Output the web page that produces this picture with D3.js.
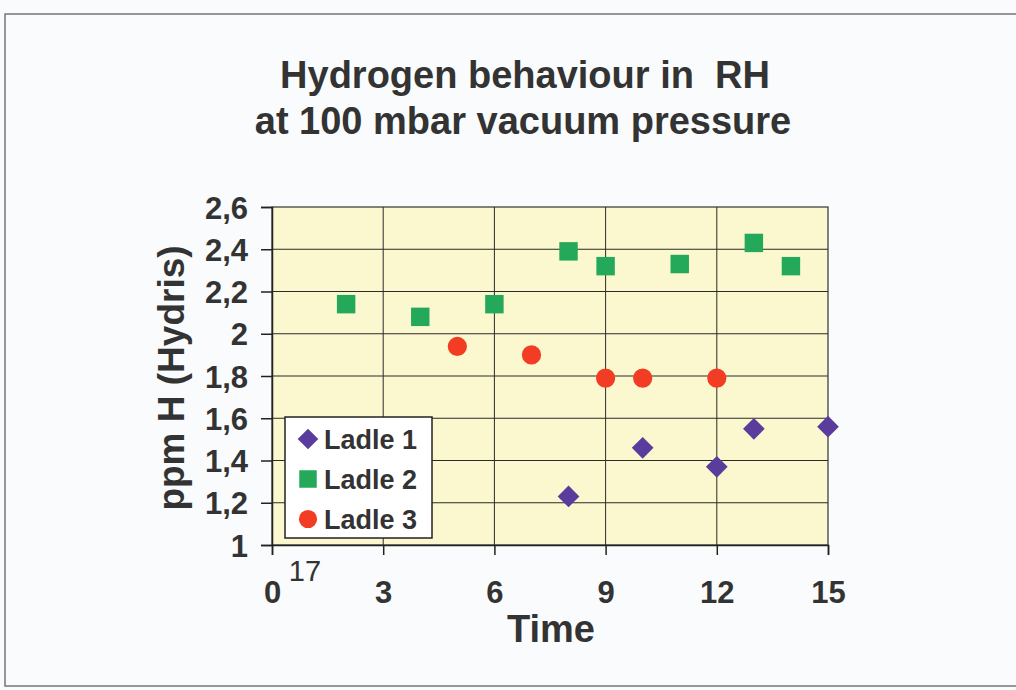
<!DOCTYPE html>
<html>
<head>
<meta charset="utf-8">
<script src="https://cdn.jsdelivr.net/npm/d3@7"></script>
<style>
  body { margin: 0; background: #fff; }
  svg text { font-family: "Liberation Sans", Arial, sans-serif; fill: #333; }
</style>
</head>
<body>
<svg id="chart" width="1016" height="690"></svg>
<script>
// data
const xTicks = [0, 3, 6, 9, 12, 15];
const yTicks = [1, 1.2, 1.4, 1.6, 1.8, 2, 2.2, 2.4, 2.6];
const yTickLabels = ["1", "1,2", "1,4", "1,6", "1,8", "2", "2,2", "2,4", "2,6"];

const ladle1 = [[8, 1.23], [10, 1.46], [12, 1.37], [13, 1.55], [15, 1.56]];
const ladle2 = [[2, 2.14], [4, 2.08], [6, 2.14], [8, 2.39], [9, 2.32], [11, 2.33], [13, 2.43], [14, 2.32]];
const ladle3 = [[5, 1.94], [7, 1.9], [9, 1.79], [10, 1.79], [12, 1.79]];

const seriesNames = ["Ladle 1", "Ladle 2", "Ladle 3"];

const svg = d3.select("#chart");
const width = +svg.attr("width");
const height = +svg.attr("height");

// slide background + frame
svg.append("rect").attr("width", width).attr("height", height).attr("fill", "#f9fbfc");
svg.append("rect")
   .attr("x", 5).attr("y", 14).attr("width", width + 10).attr("height", 672)
   .attr("fill", "none").attr("stroke", "#777").attr("stroke-width", 1.5);

const x = d3.scaleLinear().domain([0, 15]).range([272, 828]);
const y = d3.scaleLinear().domain([1, 2.6]).range([545, 207]);

// plot area
svg.append("rect")
   .attr("x", x(0)).attr("y", y(2.6))
   .attr("width", x(15) - x(0)).attr("height", y(1) - y(2.6))
   .attr("fill", "#fbf8cf")
   .attr("stroke", "#333").attr("stroke-width", 1.2);

// gridlines
svg.append("g").selectAll("line")
   .data(yTicks.filter(v => v > 1 && v < 2.6))
   .join("line")
   .attr("x1", x(0)).attr("x2", x(15))
   .attr("y1", d => y(d)).attr("y2", d => y(d))
   .attr("stroke", "#2a2a2a").attr("stroke-width", 1);

svg.append("g").selectAll("line")
   .data(xTicks.filter(v => v > 0 && v < 15))
   .join("line")
   .attr("x1", d => x(d)).attr("x2", d => x(d))
   .attr("y1", y(2.6)).attr("y2", y(1))
   .attr("stroke", "#2a2a2a").attr("stroke-width", 1);

// axes
const yAxis = svg.append("g")
   .attr("transform", `translate(${x(0)},0)`)
   .call(d3.axisLeft(y).tickValues(yTicks).tickSize(11).tickPadding(13)
         .tickFormat((d, i) => yTickLabels[i]));
yAxis.select(".domain").attr("stroke", "#222").attr("stroke-width", 1.5);
yAxis.selectAll(".tick line").attr("stroke", "#222").attr("stroke-width", 1.5);
yAxis.selectAll(".tick text")
   .attr("font-size", 31).attr("font-weight", "bold").attr("fill", "#333").attr("dy", "0.36em");

const xAxis = svg.append("g")
   .attr("transform", `translate(0,${y(1)})`)
   .call(d3.axisBottom(x).tickValues(xTicks).tickSize(10).tickPadding(26));
xAxis.select(".domain").attr("stroke", "#222").attr("stroke-width", 1.5);
xAxis.selectAll(".tick line").attr("stroke", "#222").attr("stroke-width", 1.5);
xAxis.selectAll(".tick text")
   .attr("font-size", 31).attr("font-weight", "bold").attr("fill", "#333");

// stray label near the origin
svg.append("text")
   .attr("x", x(0) + 33).attr("y", y(1) + 36)
   .attr("text-anchor", "middle").attr("font-size", 29)
   .text("17");

// markers
const sym = {
  "Ladle 1": { shape: d3.symbolDiamond2, size: 300, color: "#5a3c9c", data: ladle1 },
  "Ladle 2": { shape: d3.symbolSquare, size: 340, color: "#24a85a", data: ladle2 },
  "Ladle 3": { shape: d3.symbolCircle, size: 290, color: "#f23c24", data: ladle3 }
};

seriesNames.forEach(name => {
  const s = sym[name];
  svg.append("g").selectAll("path")
     .data(s.data)
     .join("path")
     .attr("transform", d => `translate(${x(d[0])},${y(d[1])})`)
     .attr("d", d3.symbol(s.shape, s.size))
     .attr("fill", s.color);
});

// legend
const legend = svg.append("g").attr("transform", "translate(285,417)");
legend.append("rect")
   .attr("width", 147).attr("height", 121)
   .attr("fill", "#fff").attr("stroke", "#222").attr("stroke-width", 1.5);
seriesNames.forEach((name, i) => {
  const s = sym[name];
  legend.append("path")
     .attr("transform", `translate(23,${22 + i * 40})`)
     .attr("d", d3.symbol(s.shape, s.size * 0.9))
     .attr("fill", s.color);
  legend.append("text")
     .attr("x", 39).attr("y", 22 + i * 40)
     .attr("dy", "0.36em")
     .attr("font-size", 27).attr("font-weight", "bold")
     .text(name);
});

// titles
svg.append("text")
   .attr("x", 525).attr("y", 88)
   .attr("text-anchor", "middle").attr("font-size", 38).attr("font-weight", "bold")
   .style("white-space", "pre")
   .text("Hydrogen behaviour in  RH");
svg.append("text")
   .attr("x", 523).attr("y", 134)
   .attr("text-anchor", "middle").attr("font-size", 38).attr("font-weight", "bold")
   .text("at 100 mbar vacuum pressure");

svg.append("text")
   .attr("x", 551).attr("y", 642)
   .attr("text-anchor", "middle").attr("font-size", 38).attr("font-weight", "bold")
   .text("Time");

svg.append("text")
   .attr("transform", "translate(184,378) rotate(-90)")
   .attr("text-anchor", "middle").attr("font-size", 37).attr("font-weight", "bold")
   .text("ppm H (Hydris)");
</script>
</body>
</html>
